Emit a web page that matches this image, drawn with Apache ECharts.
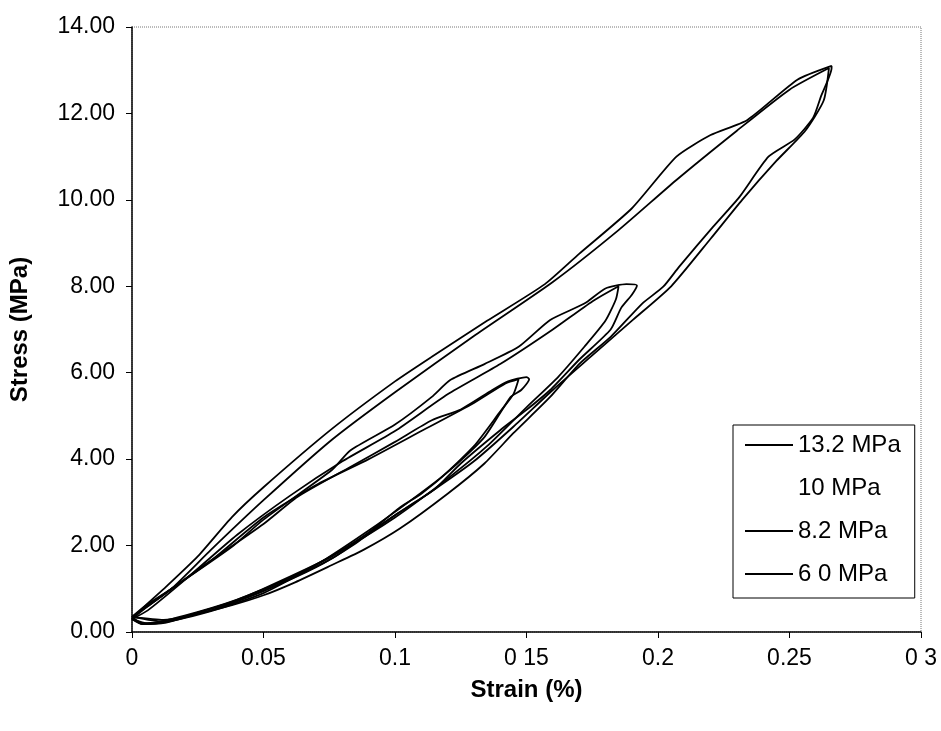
<!DOCTYPE html>
<html>
<head>
<meta charset="utf-8">
<script src="https://cdn.jsdelivr.net/npm/echarts@6/dist/echarts.min.js"></script>
<style>
  html, body { margin: 0; padding: 0; background: #fff; }
  #chart { width: 941px; height: 731px; }
</style>
</head>
<body>
<div id="chart"></div>
<script>
// tick labels as printed (scan dropped some dots)
const xTickLabels = ['0', '0.05', '0.1', '0 15', '0.2', '0.25', '0 3'];
const yTickLabels = ['0.00', '2.00', '4.00', '6.00', '8.00', '10.00', '12.00', '14.00'];
const legendNames = ['13.2 MPa', '10 MPa', '8.2 MPa', '6 0 MPa'];

// 13.2 MPa loop, two cycles
const strain132a = [0, 0.004, 0.013, 0.025, 0.038, 0.05, 0.076, 0.1, 0.114, 0.135, 0.157, 0.17, 0.19, 0.207, 0.22, 0.234, 0.253, 0.266,
  0.266, 0.262, 0.259, 0.252, 0.242, 0.231, 0.221, 0.208, 0.202, 0.194, 0.182, 0.17, 0.159, 0.145, 0.134, 0.12, 0.102, 0.088, 0.076, 0.062, 0.05, 0.038, 0.025, 0.013, 0.004, 0];
const stress132a = [0.3, 0.55, 1.05, 1.75, 2.66, 3.35, 4.7, 5.8, 6.37, 7.2, 8.05, 8.75, 9.8, 11.0, 11.5, 11.85, 12.78, 13.1,
  13.05, 12.4, 11.9, 11.4, 11.0, 10.07, 9.38, 8.45, 7.99, 7.6, 6.83, 6.2, 5.44, 4.6, 3.9, 3.2, 2.4, 1.9, 1.55, 1.15, 0.85, 0.62, 0.42, 0.22, 0.18, 0.3];
const strain132b = [0, 0.006, 0.015, 0.03, 0.05, 0.076, 0.1, 0.13, 0.16, 0.185, 0.207, 0.23, 0.25, 0.265,
  0.263, 0.256, 0.245, 0.232, 0.22, 0.205, 0.19, 0.175, 0.16, 0.145, 0.13, 0.115, 0.1, 0.085, 0.07, 0.05, 0.03, 0.012, 0];
const stress132b = [0.35, 0.6, 1.0, 1.9, 3.05, 4.45, 5.55, 6.85, 8.1, 9.3, 10.46, 11.6, 12.55, 13.05,
  12.3, 11.6, 10.9, 10.0, 9.1, 8.0, 7.2, 6.4, 5.6, 4.75, 3.95, 3.3, 2.7, 2.05, 1.5, 0.95, 0.5, 0.28, 0.35];

// 10 MPa: no trace visible in the scan
const strain10 = [];
const stress10 = [];

// 8.2 MPa loop, two cycles
const strain82a = [0, 0.005, 0.015, 0.038, 0.05, 0.076, 0.083, 0.1, 0.114, 0.121, 0.134, 0.147, 0.159, 0.172, 0.18, 0.188, 0.192,
  0.19, 0.186, 0.182, 0.17, 0.159, 0.15, 0.14, 0.125, 0.115, 0.1, 0.076, 0.05, 0.038, 0.025, 0.013, 0.004, 0];
const stress82a = [0.35, 0.6, 1.0, 1.97, 2.6, 3.75, 4.2, 4.8, 5.44, 5.83, 6.2, 6.6, 7.22, 7.6, 7.95, 8.05, 8.02,
  7.8, 7.5, 7.0, 6.3, 5.6, 5.14, 4.67, 3.9, 3.3, 2.7, 1.75, 1.0, 0.7, 0.45, 0.25, 0.2, 0.35];
const strain82b = [0, 0.006, 0.02, 0.04, 0.06, 0.08, 0.1, 0.12, 0.14, 0.16, 0.175, 0.185,
  0.184, 0.18, 0.172, 0.162, 0.15, 0.135, 0.12, 0.1, 0.08, 0.06, 0.04, 0.02, 0.006, 0];
const stress82b = [0.3, 0.5, 1.2, 2.25, 3.15, 3.95, 4.65, 5.5, 6.2, 7.0, 7.65, 8.0,
  7.7, 7.2, 6.6, 5.9, 5.2, 4.3, 3.55, 2.65, 1.9, 1.25, 0.75, 0.38, 0.2, 0.3];

// 6.0 MPa loop, two cycles
const strain60a = [0, 0.005, 0.025, 0.05, 0.063, 0.083, 0.1, 0.114, 0.125, 0.137, 0.143, 0.15,
  0.151, 0.148, 0.144, 0.134, 0.121, 0.11, 0.102, 0.09, 0.076, 0.05, 0.038, 0.025, 0.013, 0.004, 0];
const stress60a = [0.3, 0.55, 1.44, 2.5, 3.13, 3.82, 4.4, 4.9, 5.15, 5.6, 5.8, 5.9,
  5.85, 5.6, 5.44, 4.51, 3.75, 3.2, 2.89, 2.3, 1.7, 0.95, 0.68, 0.45, 0.23, 0.18, 0.3];
const strain60b = [0, 0.008, 0.03, 0.05, 0.07, 0.09, 0.11, 0.13, 0.142, 0.147,
  0.145, 0.14, 0.13, 0.118, 0.105, 0.09, 0.07, 0.05, 0.03, 0.012, 0];
const stress60b = [0.35, 0.7, 1.65, 2.65, 3.4, 4.0, 4.65, 5.3, 5.75, 5.85,
  5.5, 5.1, 4.3, 3.6, 3.0, 2.35, 1.55, 0.9, 0.48, 0.24, 0.35];

function pairs(xs, ys) {
  return xs.map((x, i) => [x, ys[i]]);
}

function loop(name, xs, ys, color) {
  return {
    name: name,
    type: 'line',
    data: pairs(xs, ys),
    showSymbol: false,
    smooth: 0.2,
    color: color,
    lineStyle: { color: color, width: 1.8 },
    animation: false,
  };
}

const chart = echarts.init(document.getElementById('chart'), null, { renderer: 'canvas' });
const font = 'Liberation Sans, Arial, sans-serif';

chart.setOption({
  backgroundColor: '#fff',
  textStyle: { fontFamily: font },
  grid: {
    left: 130, right: 20, top: 27, bottom: 99,
    show: true,
    borderColor: '#777',
    borderWidth: 1,
    borderType: 'dotted',
  },
  legend: {
    data: legendNames,
    orient: 'vertical',
    left: 733,
    top: 425,
    padding: [8, 14, 12, 12],
    itemGap: 19,
    itemWidth: 48,
    itemHeight: 2,
    icon: 'rect',
    borderColor: '#000',
    borderWidth: 1,
    backgroundColor: '#fff',
    textStyle: { fontSize: 24, color: '#000', fontFamily: font },
  },
  xAxis: {
    type: 'value',
    min: 0,
    max: 0.3,
    interval: 0.05,
    name: 'Strain (%)',
    nameLocation: 'middle',
    nameGap: 46,
    nameTextStyle: { fontSize: 24, fontWeight: 'bold', color: '#000' },
    axisLine: { lineStyle: { color: '#000', width: 1.5 } },
    axisTick: { show: true, length: 6, lineStyle: { color: '#000' } },
    splitLine: { show: false },
    axisLabel: {
      fontSize: 23,
      color: '#000',
      margin: 15,
      formatter: (v) => xTickLabels[Math.round(v / 0.05)],
    },
  },
  yAxis: {
    type: 'value',
    min: 0,
    max: 14,
    interval: 2,
    name: 'Stress (MPa)',
    nameLocation: 'middle',
    nameGap: 100,
    nameTextStyle: { fontSize: 24, fontWeight: 'bold', color: '#000' },
    axisLine: { show: true, lineStyle: { color: '#000', width: 1.5 } },
    axisTick: { show: true, length: 6, lineStyle: { color: '#000' } },
    splitLine: { show: false },
    axisLabel: {
      fontSize: 23,
      color: '#000',
      margin: 17,
      formatter: (v) => yTickLabels[Math.round(v / 2)],
    },
  },
  series: [
    loop('13.2 MPa', strain132a, stress132a, '#000'),
    loop('13.2 MPa', strain132b, stress132b, '#000'),
    loop('10 MPa', strain10, stress10, '#fff'),
    loop('8.2 MPa', strain82a, stress82a, '#000'),
    loop('8.2 MPa', strain82b, stress82b, '#000'),
    loop('6 0 MPa', strain60a, stress60a, '#000'),
    loop('6 0 MPa', strain60b, stress60b, '#000'),
  ],
});
</script>
</body>
</html>
